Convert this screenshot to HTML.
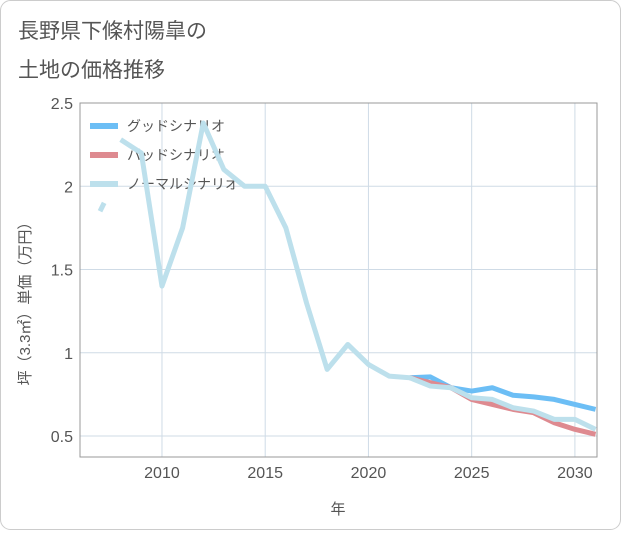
<!DOCTYPE html>
<html><head><meta charset="utf-8"><style>
body{margin:0;background:#fff;font-family:"Liberation Sans","Noto Sans CJK JP",sans-serif;}
#wrap{position:relative;width:621px;height:530px;}
</style></head><body>
<div id="wrap">
<svg id="chart" width="621" height="530">
<rect x="0.5" y="0.5" width="620" height="529" rx="10" fill="#fff" stroke="#ccc"/>
<text x="18" y="38" font-size="21" fill="#555">長野県下條村陽皐の</text>
<text x="18" y="77" font-size="21" fill="#555">土地の価格推移</text>
<g id="grid"></g>
<g id="legend"></g>
<g id="lines"></g>
<rect x="80" y="103" width="517" height="354" fill="none" stroke="#999"/>
<text x="338" y="514" font-size="15" fill="#555" text-anchor="middle">年</text>
<text transform="translate(30,300) rotate(-90)" font-size="15" fill="#555" text-anchor="middle">坪（3.3㎡）単価（万円）</text>
</svg>
</div>
<script>
const earlyYears=[2007,2007.2];
const early=[1.85,1.9];
const years=[2008,2009,2010,2011,2012,2013,2014,2015,2016,2017,2018,2019,2020,2021,2022,2023,2024,2025,2026,2027,2028,2029,2030,2031];
const normal=[2.28,2.2,1.4,1.75,2.38,2.1,2.0,2.0,1.75,1.3,0.9,1.05,0.93,0.86,0.85,0.8,0.79,0.73,0.72,0.67,0.65,0.6,0.6,0.54];
const futYears=[2022,2023,2024,2025,2026,2027,2028,2029,2030,2031];
const good=[0.85,0.855,0.79,0.77,0.79,0.745,0.735,0.72,0.69,0.66];
const bad=[0.85,0.82,0.79,0.72,0.69,0.66,0.64,0.58,0.54,0.51];
const xTicks=[2010,2015,2020,2025,2030];
const yTicks=[0.5,1,1.5,2,2.5];
const yTickLabels=["0.5","1","1.5","2","2.5"];
const X0=80,X1=597,Y0=103,Y1=457,xMin=2006.03,xMax=2031.07,yMin=0.374,yMax=2.5;
const sx=v=>X0+(v-xMin)/(xMax-xMin)*(X1-X0);
const sy=v=>Y1-(v-yMin)/(yMax-yMin)*(Y1-Y0);
const NS="http://www.w3.org/2000/svg";
function mk(t,a,p){const e=document.createElementNS(NS,t);for(const k in a)e.setAttribute(k,a[k]);p.appendChild(e);return e;}
const grid=document.getElementById('grid');
xTicks.forEach(t=>{
 const l=mk('line',{x1:sx(t),x2:sx(t),y1:Y0,y2:Y1,stroke:'#cfdbe6'},grid);
 
 
 const tx=mk('text',{x:sx(t),y:478,'font-size':16,fill:'#555','text-anchor':'middle'},grid);tx.textContent=t;
 
 
});
yTicks.forEach((t,i)=>{
 const l=mk('line',{x1:X0,x2:X1,y1:sy(t),y2:sy(t),stroke:'#cfdbe6'},grid);
 
 
 const tx=mk('text',{x:73,y:sy(t)+6,'font-size':16,fill:'#555','text-anchor':'end'},grid);tx.textContent=yTickLabels[i];
 
 
});
const lines=document.getElementById('lines');
mk('clipPath',{id:'clip'},lines).appendChild(document.createElementNS(NS,'rect'));
const cr=lines.querySelector('clipPath rect');cr.setAttribute('x',X0);cr.setAttribute('y',Y0);cr.setAttribute('width',X1-X0);cr.setAttribute('height',Y1-Y0);
function series(xs,ys,col,name){
 const p=mk('polyline',{points:xs.map((x,i)=>sx(x)+','+sy(ys[i])).join(' '),fill:'none',stroke:col,'stroke-width':5,'stroke-linejoin':'round','clip-path':'url(#clip)'},lines);
 
 
}
series(futYears,good,'#6cbef5','good-scenario-line');
series(futYears,bad,'#de8a90','bad-scenario-line');
series(years,normal,'#bde0ec','normal-scenario-line');
series(earlyYears,early,'#bde0ec','normal-scenario-early-segment');
const lg=document.getElementById('legend');
[['グッドシナリオ','#6cbef5','legend-good'],['バッドシナリオ','#de8a90','legend-bad'],['ノーマルシナリオ','#bde0ec','legend-normal']].forEach((d,i)=>{
 const y=126+i*29;
 const g=mk('g',{},lg);
 
 
 mk('line',{x1:90,x2:118,y1:y,y2:y,stroke:d[1],'stroke-width':6},g);
 const t=mk('text',{x:127,y:y+5,'font-size':14,fill:'#555'},g);t.textContent=d[0];
});
</script>
</body></html>
